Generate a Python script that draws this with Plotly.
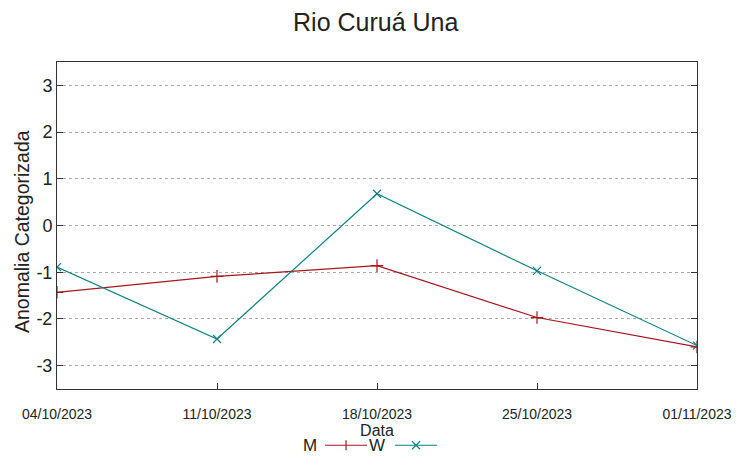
import plotly.graph_objects as go

dates = ["2023-10-04", "2023-10-11", "2023-10-18", "2023-10-25", "2023-11-01"]
tick_labels = ["04/10/2023", "11/10/2023", "18/10/2023", "25/10/2023", "01/11/2023"]
m_values = [-1.43, -1.09, -0.86, -1.97, -2.60]
w_values = [-0.89, -2.43, 0.68, -0.97, -2.57]
y_ticks = [-3, -2, -1, 0, 1, 2, 3]
y_tick_labels = ["-3", "-2", "-1", "0", "1", "2", "3"]
series_names = ["M", "W"]
series_colors = ["#a3161c", "#0e8080"]

fig = go.Figure()
fig.add_trace(go.Scatter(x=dates, y=m_values, name=series_names[0], mode="lines+markers",
                         showlegend=False,
                         line=dict(color=series_colors[0], width=1.2),
                         marker=dict(symbol="cross-thin", size=9, line=dict(color=series_colors[0], width=1.2))))
fig.add_trace(go.Scatter(x=dates, y=w_values, name=series_names[1], mode="lines+markers",
                         showlegend=False,
                         line=dict(color=series_colors[1], width=1.2),
                         marker=dict(symbol="x-thin", size=8, line=dict(color=series_colors[1], width=1.2))))

# custom legend (text before sample, as in the reference)
PW, PH = 640.0, 327.0
leg_y = -0.172
dx, dy = 1 / PW, 1 / PH
legend_items = [
    # text centre x, line start, line end, marker centre (paper fractions)
    (0.3953, 0.4188, 0.4844, 0.4516, "plus"),
    (0.5000, 0.5280, 0.5940, 0.5610, "x"),
]
shapes = []
annotations = []
for (tx, x0, x1, mx, kind), name, col in zip(legend_items, series_names, series_colors):
    annotations.append(dict(text=name, x=tx, y=leg_y, xref="paper", yref="paper",
                            xanchor="center", yanchor="middle", showarrow=False,
                            font=dict(size=17, family="Liberation Sans Narrow, Liberation Sans, sans-serif",
                                      color="#222")))
    shapes.append(dict(type="line", xref="paper", yref="paper", x0=x0, x1=x1, y0=leg_y, y1=leg_y,
                       line=dict(color=col, width=1.2)))
    if kind == "plus":
        shapes.append(dict(type="line", xref="paper", yref="paper", x0=mx, x1=mx,
                           y0=leg_y - 5 * dy, y1=leg_y + 5 * dy, line=dict(color=col, width=1.2)))
    else:
        shapes.append(dict(type="line", xref="paper", yref="paper", x0=mx - 4 * dx, x1=mx + 4 * dx,
                           y0=leg_y - 4 * dy, y1=leg_y + 4 * dy, line=dict(color=col, width=1.2)))
        shapes.append(dict(type="line", xref="paper", yref="paper", x0=mx - 4 * dx, x1=mx + 4 * dx,
                           y0=leg_y + 4 * dy, y1=leg_y - 4 * dy, line=dict(color=col, width=1.2)))

# y-axis title as annotation (slightly below plot centre, like the reference)
annotations.append(dict(text="Anomalia Categorizada", x=-0.0547, y=0.483, xref="paper", yref="paper",
                        xanchor="center", yanchor="middle", textangle=-90, showarrow=False,
                        font=dict(size=19.5, color="#222")))

fig.update_layout(
    width=752, height=459,
    margin=dict(l=49, r=63, t=54, b=78, autoexpand=False),
    paper_bgcolor="white", plot_bgcolor="white",
    font=dict(family="Liberation Sans, Arial, sans-serif", color="#222"),
    title=dict(text="Rio Curuá Una", x=0.489, xanchor="center", y=0.97, yanchor="middle",
               font=dict(size=25, color="#222")),
    showlegend=False,
    shapes=shapes,
    annotations=annotations,
    xaxis=dict(type="date", range=[dates[0], dates[-1]], tickvals=dates, ticktext=tick_labels,
               showgrid=False, showline=True, linecolor="#333", linewidth=1, mirror=True,
               ticks="inside", ticklen=6, tickcolor="#333", ticklabelstandoff=12,
               tickfont=dict(family="Liberation Sans Narrow, Liberation Sans, sans-serif", size=14),
               title=dict(text="Data", standoff=0, font=dict(size=16)), zeroline=False),
    yaxis=dict(range=[-3.5, 3.5], tickvals=y_ticks, ticktext=y_tick_labels,
               showgrid=True, gridcolor="#aaa", griddash="dot", gridwidth=1,
               showline=True, linecolor="#333", linewidth=1, mirror="ticks",
               ticks="inside", ticklen=6, tickcolor="#333",
               tickfont=dict(size=18),
               zeroline=False),
)

fig.write_html("out.html")
